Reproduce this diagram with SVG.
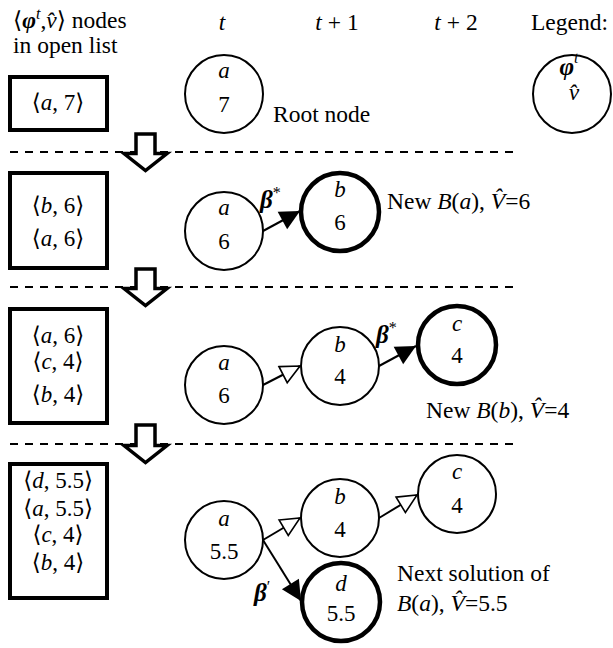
<svg xmlns="http://www.w3.org/2000/svg" width="613" height="648" viewBox="0 0 613 648">
<style>
text{font-family:"Liberation Serif","DejaVu Serif",serif;font-size:23.5px;fill:#000}
.i{font-style:italic}
.bi{font-style:italic;font-weight:bold}
.m{text-anchor:middle}
.v{font-size:23px}
.n{fill:#fff;stroke:#000;stroke-width:2}
.nb{fill:#fff;stroke:#000;stroke-width:4.5}
.box{fill:#fff;stroke:#000;stroke-width:4}
.dash{stroke:#000;stroke-width:2;stroke-dasharray:8 7;fill:none}
.ef{stroke:#000;stroke-width:2;fill:none;marker-end:url(#af)}
.eo{stroke:#000;stroke-width:2;fill:none;marker-end:url(#ao)}
.down{fill:#fff;stroke:#000;stroke-width:3.5;stroke-linejoin:miter}
.sup{font-size:16px}
.beta{font-size:25px}
</style>
<defs>
<marker id="af" markerUnits="userSpaceOnUse" markerWidth="24" markerHeight="24" refX="20" refY="10" orient="auto" overflow="visible">
<path d="M0,0 L20,10 L0,20 z" fill="#000"/>
</marker>
<marker id="ao" markerUnits="userSpaceOnUse" markerWidth="24" markerHeight="24" refX="19" refY="9" orient="auto" overflow="visible">
<path d="M0,0 L19,9 L0,18 z" fill="#fff" stroke="#000" stroke-width="1.6"/>
</marker>
</defs>

<!-- headers -->
<text x="13" y="28">⟨<tspan class="bi">φ</tspan><tspan class="sup i" dy="-9">t</tspan><tspan dy="9">,</tspan><tspan class="i">v̂</tspan>⟩ nodes</text>
<text x="13" y="53">in open list</text>
<text x="222" y="30" class="m i">t</text>
<text x="337" y="30" class="m"><tspan class="i">t</tspan> + 1</text>
<text x="456" y="30" class="m"><tspan class="i">t</tspan> + 2</text>
<text x="531" y="30">Legend:</text>

<!-- separators -->
<line class="dash" x1="10" y1="152" x2="515" y2="152"/>
<line class="dash" x1="10" y1="287" x2="515" y2="287"/>
<line class="dash" x1="10" y1="444" x2="515" y2="444"/>

<!-- legend -->
<g id="legend">
<circle class="n" cx="572" cy="94" r="39"/>
<text x="569" y="75" class="m"><tspan class="bi" font-size="25">φ</tspan><tspan class="sup i" dy="-12">t</tspan></text>
<text x="574" y="100" class="m i" font-size="22">v̂</text>
</g>

<!-- open list boxes -->
<g id="list1">
<rect class="box" x="10" y="77" width="97" height="53"/>
<text x="58" y="110" class="m v">⟨<tspan class="i">a</tspan>, 7⟩</text>
</g>
<g id="list2">
<rect class="box" x="10" y="173" width="97" height="95"/>
<text x="58" y="213" class="m v">⟨<tspan class="i">b</tspan>, 6⟩</text>
<text x="58" y="246" class="m v">⟨<tspan class="i">a</tspan>, 6⟩</text>
</g>
<g id="list3">
<rect class="box" x="10" y="309" width="97" height="114"/>
<text x="58" y="343" class="m v">⟨<tspan class="i">a</tspan>, 6⟩</text>
<text x="58" y="369" class="m v">⟨<tspan class="i">c</tspan>, 4⟩</text>
<text x="58" y="402" class="m v">⟨<tspan class="i">b</tspan>, 4⟩</text>
</g>
<g id="list4">
<rect class="box" x="10" y="464" width="97" height="134"/>
<text x="58" y="488" class="m v">⟨<tspan class="i">d</tspan>, 5.5⟩</text>
<text x="58" y="516" class="m v">⟨<tspan class="i">a</tspan>, 5.5⟩</text>
<text x="58" y="542" class="m v">⟨<tspan class="i">c</tspan>, 4⟩</text>
<text x="58" y="570" class="m v">⟨<tspan class="i">b</tspan>, 4⟩</text>
</g>

<!-- connectors -->
<g id="connectors">
<polygon class="down" points="136,134 155,134 155,153.5 167,153.5 145.5,170.5 124,153.5 136,153.5"/>
<polygon class="down" points="136,269 155,269 155,288.5 167,288.5 145.5,305.5 124,288.5 136,288.5"/>
<polygon class="down" points="136,425 155,425 155,445.5 167,445.5 145.5,462.5 124,445.5 136,445.5"/>
<line class="ef" x1="263" y1="231" x2="300" y2="211"/>
<line class="eo" x1="263" y1="385" x2="300" y2="366"/>
<line class="ef" x1="379" y1="366" x2="416" y2="346"/>
<line class="eo" x1="263" y1="540" x2="300" y2="518"/>
<line class="eo" x1="379" y1="518" x2="417" y2="495"/>
<line class="ef" x1="263" y1="540" x2="301" y2="601"/>
<text x="260" y="208"><tspan class="bi beta">β</tspan><tspan class="sup" dy="-10">*</tspan></text>
<text x="376" y="343"><tspan class="bi beta">β</tspan><tspan class="sup" dy="-10">*</tspan></text>
<text x="254" y="601"><tspan class="bi beta">β</tspan><tspan class="sup" dy="-9">′</tspan></text>
</g>

<!-- row 1 -->
<g id="r1a">
<circle class="n" cx="224" cy="94" r="39"/>
<text x="224" y="78" class="m i v">a</text>
<text x="224" y="112" class="m v">7</text>
</g>
<text x="273" y="122">Root node</text>

<!-- row 2 -->
<g id="r2a">
<circle class="n" cx="224" cy="231" r="39"/>
<text x="224" y="215" class="m i v">a</text>
<text x="224" y="249" class="m v">6</text>
</g>
<g id="r2b">
<circle class="nb" cx="340" cy="212" r="39"/>
<text x="340" y="197" class="m i v">b</text>
<text x="340" y="230" class="m v">6</text>
</g>
<text x="387" y="209">New <tspan class="i">B</tspan>(<tspan class="i">a</tspan>), <tspan class="i">V̂</tspan>=6</text>

<!-- row 3 -->
<g id="r3a">
<circle class="n" cx="224" cy="385" r="39"/>
<text x="224" y="370" class="m i v">a</text>
<text x="224" y="403" class="m v">6</text>
</g>
<g id="r3b">
<circle class="n" cx="340" cy="366" r="39"/>
<text x="340" y="352" class="m i v">b</text>
<text x="340" y="384" class="m v">4</text>
</g>
<g id="r3c">
<circle class="nb" cx="457" cy="345" r="39"/>
<text x="457" y="331" class="m i v">c</text>
<text x="457" y="363" class="m v">4</text>
</g>
<text x="426" y="418">New <tspan class="i">B</tspan>(<tspan class="i">b</tspan>), <tspan class="i">V̂</tspan>=4</text>

<!-- row 4 -->
<g id="r4a">
<circle class="n" cx="224" cy="540" r="39"/>
<text x="224" y="526" class="m i v">a</text>
<text x="224" y="559" class="m v">5.5</text>
</g>
<g id="r4b">
<circle class="n" cx="340" cy="518" r="39"/>
<text x="340" y="504" class="m i v">b</text>
<text x="340" y="537" class="m v">4</text>
</g>
<g id="r4c">
<circle class="n" cx="457" cy="494" r="39"/>
<text x="457" y="479" class="m i v">c</text>
<text x="457" y="513" class="m v">4</text>
</g>
<g id="r4d">
<circle class="nb" cx="341" cy="602" r="39"/>
<text x="341" y="591" class="m i v">d</text>
<text x="341" y="621" class="m v">5.5</text>
</g>
<text x="397" y="581">Next solution of</text>
<text x="397" y="611"><tspan class="i">B</tspan>(<tspan class="i">a</tspan>), <tspan class="i">V̂</tspan>=5.5</text>
</svg>
